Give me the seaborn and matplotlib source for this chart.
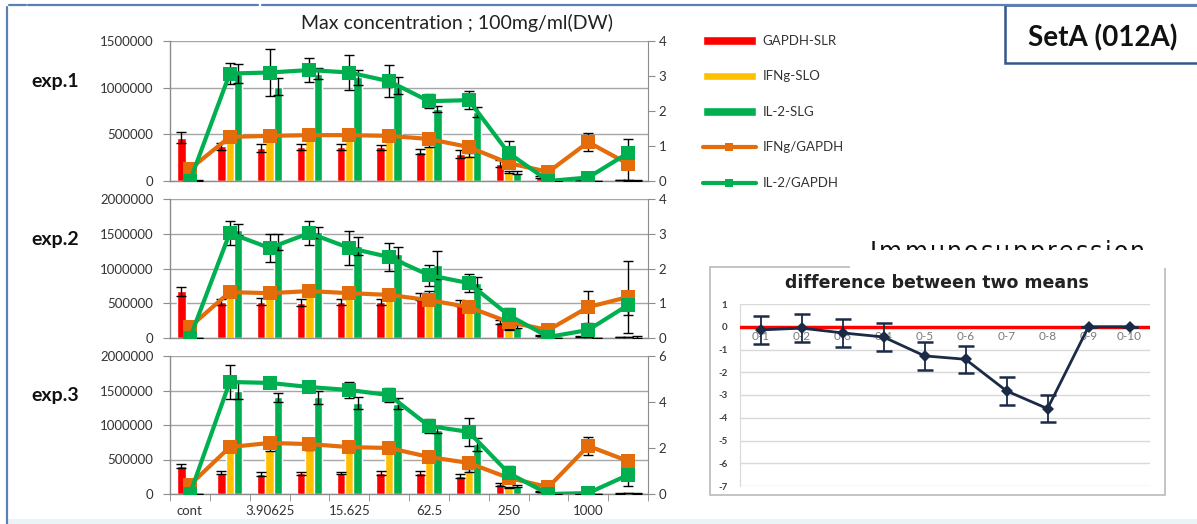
import numpy as np
import pandas as pd
import matplotlib
matplotlib.use("Agg")
import matplotlib.pyplot as plt
from matplotlib.patches import Rectangle, Patch
from matplotlib.lines import Line2D
from matplotlib.ticker import FuncFormatter
import seaborn as sns

# ---------------------------------------------------------------- data
categories = ['cont', '1.953125', '3.90625', '7.8125', '15.625', '31.25',
              '62.5', '125', '250', '500', '1000', '2000']
tick_labels = ['cont', '', '3.90625', '', '15.625', '', '62.5', '', '250', '', '1000', '']

bar_series = ['GAPDH-SLR', 'IFNg-SLO', 'IL-2-SLG']
ratio_series = ['IFNg/GAPDH', 'IL-2/GAPDH']

# exp.1
exp1_gapdh = [465000, 370000, 355000, 365000, 365000, 360000, 315000, 290000, 185000, 40000, 10000, 10000]
exp1_gapdh_err = [55000, 35000, 40000, 30000, 30000, 25000, 30000, 40000, 35000, 10000, 3000, 3000]
exp1_ifng = [155000, 465000, 455000, 475000, 480000, 465000, 380000, 280000, 95000, 10000, 11000, 5000]
exp1_ifng_err = [10000, 20000, 20000, 20000, 20000, 20000, 20000, 20000, 10000, 2000, 2000, 2000]
exp1_il2 = [5000, 1150000, 1010000, 1150000, 1110000, 1020000, 770000, 740000, 90000, 2000, 2000, 5000]
exp1_il2_err = [2000, 100000, 90000, 60000, 80000, 90000, 30000, 50000, 15000, 1000, 1000, 2000]
exp1_r_ifng = [0.34, 1.26, 1.29, 1.31, 1.31, 1.29, 1.20, 0.97, 0.51, 0.26, 1.11, 0.49]
exp1_r_ifng_err = [0.05, 0.10, 0.08, 0.10, 0.08, 0.10, 0.10, 0.10, 0.10, 0.05, 0.25, 0.45]
exp1_r_il2 = [0.0, 3.07, 3.10, 3.17, 3.10, 2.85, 2.28, 2.31, 0.80, 0.0, 0.10, 0.80]
exp1_r_il2_err = [0.0, 0.30, 0.67, 0.35, 0.50, 0.45, 0.20, 0.25, 0.35, 0.0, 0.0, 0.40]

# exp.2
exp2_gapdh = [670000, 520000, 520000, 505000, 520000, 520000, 600000, 500000, 230000, 40000, 20000, 15000]
exp2_gapdh_err = [60000, 40000, 50000, 50000, 40000, 40000, 50000, 40000, 30000, 10000, 5000, 5000]
exp2_ifng = [215000, 686000, 670000, 680000, 670000, 645000, 654000, 445000, 120000, 9000, 18000, 18000]
exp2_ifng_err = [10000, 20000, 20000, 20000, 20000, 20000, 20000, 20000, 10000, 2000, 2000, 2000]
exp2_il2 = [5000, 1560000, 1380000, 1520000, 1320000, 1210000, 1050000, 790000, 160000, 1000, 5000, 14000]
exp2_il2_err = [2000, 80000, 120000, 80000, 130000, 100000, 200000, 90000, 20000, 1000, 2000, 10000]
exp2_r_ifng = [0.32, 1.32, 1.29, 1.35, 1.29, 1.24, 1.09, 0.89, 0.46, 0.23, 0.89, 1.18]
exp2_r_ifng_err = [0.05, 0.10, 0.10, 0.10, 0.10, 0.10, 0.10, 0.10, 0.10, 0.05, 0.46, 1.05]
exp2_r_il2 = [0.0, 3.02, 2.59, 3.02, 2.59, 2.33, 1.81, 1.58, 0.66, 0.03, 0.23, 0.95]
exp2_r_il2_err = [0.0, 0.35, 0.40, 0.35, 0.50, 0.40, 0.30, 0.25, 0.20, 0.0, 0.10, 0.30]

# exp.3
exp3_gapdh = [410000, 310000, 290000, 300000, 305000, 305000, 310000, 255000, 140000, 30000, 5000, 8000]
exp3_gapdh_err = [30000, 25000, 35000, 20000, 20000, 25000, 30000, 30000, 25000, 8000, 2000, 2000]
exp3_ifng = [160000, 632000, 644000, 651000, 622000, 610000, 500000, 344000, 98000, 9000, 10000, 11000]
exp3_ifng_err = [10000, 20000, 20000, 20000, 20000, 20000, 20000, 20000, 10000, 2000, 2000, 2000]
exp3_il2 = [5000, 1500000, 1400000, 1400000, 1320000, 1310000, 930000, 720000, 120000, 1000, 1000, 7000]
exp3_il2_err = [2000, 120000, 60000, 100000, 90000, 80000, 50000, 90000, 15000, 500, 500, 3000]
exp3_r_ifng = [0.39, 2.04, 2.22, 2.17, 2.04, 2.00, 1.61, 1.35, 0.70, 0.30, 2.09, 1.43]
exp3_r_ifng_err = [0.05, 0.15, 0.10, 0.10, 0.10, 0.10, 0.10, 0.10, 0.10, 0.05, 0.40, 0.10]
exp3_r_il2 = [0.0, 4.87, 4.83, 4.65, 4.52, 4.30, 2.96, 2.70, 0.91, 0.0, 0.04, 0.83]
exp3_r_il2_err = [0.0, 0.75, 0.15, 0.20, 0.35, 0.30, 0.30, 0.60, 0.30, 0.0, 0.0, 0.50]

# difference between two means
diff_labels = ['0-1', '0-2', '0-3', '0-4', '0-5', '0-6', '0-7', '0-8', '0-9', '0-10']
diff_means = [-0.14, -0.06, -0.27, -0.45, -1.28, -1.43, -2.82, -3.60, 0.0, 0.0]
diff_err = [0.60, 0.62, 0.62, 0.60, 0.60, 0.60, 0.60, 0.60, 0.0, 0.0]

# ---------------------------------------------------------------- style
sns.set_style("white")
plt.rcParams['font.family'] = ['Lato', 'DejaVu Sans']
plt.rcParams['axes.unicode_minus'] = False

RED, YEL, GRN, ORG = '#FF0000', '#FFC000', '#00B050', '#E46C0A'
GRAY = '#8C8C8C'
FRAME = '#5B80B5'

W, H = 1197, 524
fig = plt.figure(figsize=(W / 100, H / 100), dpi=100)
fig.patch.set_facecolor('white')


def px_box(l, t, r, b):
    return [l / W, 1 - b / H, (r - l) / W, (b - t) / H]


def draw_panel(box, gapdh, gapdh_err, ifng, ifng_err, il2, il2_err,
               r_ifng, r_ifng_err, r_il2, r_il2_err, ymax, rmax, rstep, bottom):
    ax = fig.add_axes(px_box(*box))
    df = pd.DataFrame({
        'conc': categories * 3,
        'series': np.repeat(bar_series, len(categories)),
        'value': list(gapdh) + list(ifng) + list(il2),
    })
    sns.barplot(data=df, x='conc', y='value', hue='series', hue_order=bar_series,
                palette=[RED, YEL, GRN], width=0.64, saturation=1,
                errorbar=None, legend=False, ax=ax, zorder=2)
    for cont, errs in zip(ax.containers, [gapdh_err, ifng_err, il2_err]):
        xs = [p.get_x() + p.get_width() / 2 for p in cont]
        ys = [p.get_height() for p in cont]
        ax.errorbar(xs, ys, yerr=errs, fmt='none', ecolor='black',
                    elinewidth=1, capsize=3.5, capthick=1, zorder=3)

    ax.set_ylim(0, ymax)
    ax.set_yticks(np.arange(0, ymax + 1, 500000))
    ax.yaxis.set_major_formatter(FuncFormatter(lambda v, p: f'{int(v)}'))
    ax.yaxis.grid(True, color='#A6A6A6', lw=1)
    ax.set_axisbelow(True)
    ax.set_xlabel('')
    ax.set_ylabel('')
    for s in ['top', 'right']:
        ax.spines[s].set_visible(False)
    for s in ['left', 'bottom']:
        ax.spines[s].set_color(GRAY)
        ax.spines[s].set_linewidth(1)
    ax.tick_params(axis='y', length=5, color=GRAY, labelsize=9.5, pad=7,
                   labelcolor='#333333')

    ax2 = ax.twinx()
    pos = np.arange(len(categories))
    # error bars sit underneath the square markers
    ax2.errorbar(pos, r_ifng, yerr=r_ifng_err, fmt='none', ecolor='black',
                 elinewidth=1, capsize=3.5, capthick=1, zorder=2)
    ax2.errorbar(pos, r_il2, yerr=r_il2_err, fmt='none', ecolor='black',
                 elinewidth=1, capsize=3.5, capthick=1, zorder=2)
    sns.lineplot(x=pos, y=r_ifng, ax=ax2, color=ORG, lw=3, marker='s',
                 markersize=9.5, markeredgewidth=0, zorder=4)
    sns.lineplot(x=pos, y=r_il2, ax=ax2, color=GRN, lw=3, marker='s',
                 markersize=9.5, markeredgewidth=0, zorder=5)
    ax2.set_ylim(0, rmax)
    ax2.set_yticks(np.arange(0, rmax + 0.1, rstep))
    ax2.set_ylabel('')
    for s in ['top', 'left', 'bottom']:
        ax2.spines[s].set_visible(False)
    ax2.spines['right'].set_color(GRAY)
    ax2.tick_params(axis='y', length=5, color=GRAY, labelsize=9.5, pad=2.5,
                    labelcolor='#333333')

    ax.set_xlim(-0.5, len(categories) - 0.5)
    ax.set_xticks(pos)
    if bottom:
        ax.set_xticklabels(tick_labels)
        ax.set_xticks(np.arange(-0.5, len(categories), 1), minor=True)
        ax.tick_params(axis='x', which='major', length=0, labelsize=9.5, pad=8,
                       labelcolor='#333333')
        ax.tick_params(axis='x', which='minor', length=5, color=GRAY,
                       direction='out', bottom=True)
    else:
        ax.set_xticklabels([])
        ax.tick_params(axis='x', length=0)
    return ax


draw_panel((170, 41, 648, 181), exp1_gapdh, exp1_gapdh_err, exp1_ifng, exp1_ifng_err,
           exp1_il2, exp1_il2_err, exp1_r_ifng, exp1_r_ifng_err, exp1_r_il2, exp1_r_il2_err,
           1500000, 4, 1, False)
draw_panel((170, 199, 648, 338), exp2_gapdh, exp2_gapdh_err, exp2_ifng, exp2_ifng_err,
           exp2_il2, exp2_il2_err, exp2_r_ifng, exp2_r_ifng_err, exp2_r_il2, exp2_r_il2_err,
           2000000, 4, 1, False)
draw_panel((170, 356, 648, 494), exp3_gapdh, exp3_gapdh_err, exp3_ifng, exp3_ifng_err,
           exp3_il2, exp3_il2_err, exp3_r_ifng, exp3_r_ifng_err, exp3_r_il2, exp3_r_il2_err,
           2000000, 6, 2, True)

# titles and row labels
fig.text(457 / W, 1 - 23 / H, 'Max concentration ; 100mg/ml(DW)', ha='center',
         va='center', fontsize=14, color='#222222')
for lbl, yc in [('exp.1', 82), ('exp.2', 239), ('exp.3', 396)]:
    fig.text(55 / W, 1 - yc / H, lbl, ha='center', va='center', fontsize=14,
             weight='bold', color='#111111')

# legend
handles = [Patch(facecolor=RED), Patch(facecolor=YEL), Patch(facecolor=GRN),
           Line2D([0], [0], color=ORG, lw=3, marker='s', ms=6, mew=0),
           Line2D([0], [0], color=GRN, lw=3, marker='s', ms=6, mew=0)]
fig.legend(handles, bar_series + ratio_series, loc='upper left',
           bbox_to_anchor=(703 / W, 1 - 35 / H), frameon=False, fontsize=9.5,
           handlelength=4, handleheight=0.6, labelspacing=1.78, handletextpad=0.5,
           borderaxespad=0, borderpad=0, labelcolor='#333333')

# set label box
fig.add_artist(Rectangle((1005 / W, 1 - 63 / H), 200 / W, 58 / H, transform=fig.transFigure,
                         facecolor='white', edgecolor='#36558A', lw=1.8, zorder=2))
fig.text(1103 / W, 1 - 38 / H, 'SetA (012A)', ha='center', va='center', fontsize=20,
         weight='bold', color='#111111', zorder=3)

# page frame
fig.add_artist(Line2D([9 / W, 26 / W], [1 - 5 / H] * 2, transform=fig.transFigure, color=FRAME, lw=1.6))
fig.add_artist(Line2D([28 / W, 258 / W], [1 - 5 / H] * 2, transform=fig.transFigure, color=FRAME, lw=1.6))
fig.add_artist(Line2D([262 / W, 1], [1 - 5 / H] * 2, transform=fig.transFigure, color=FRAME, lw=1.6))
fig.add_artist(Line2D([7 / W, 7 / W], [1 - 7 / H, 0], transform=fig.transFigure, color=FRAME, lw=1.6))
fig.add_artist(Rectangle((8 / W, 0), 1, 5 / H, transform=fig.transFigure,
                         facecolor='#EAF4F7', edgecolor='none', zorder=0))

# heading partly hidden behind the inset chart
renderer = fig.canvas.get_renderer()
word = 'Immunosuppression'
glyphs = [fig.text(0, 1 - 259 / H, ch, fontsize=17, color='#111111', va='baseline',
                   family='DejaVu Sans') for ch in word]
widths = [g.get_window_extent(renderer).width for g in glyphs]
gap = (275 - sum(widths)) / (len(word) - 1)
x = 870
for g, w in zip(glyphs, widths):
    g.set_x(x / W)
    x += w + gap
fig.add_artist(Rectangle((850 / W, 1 - 268 / H), 320 / W, 18 / H, transform=fig.transFigure,
                         facecolor='white', edgecolor='none', zorder=5))

# inset: difference between two means
fig.add_artist(Rectangle((710 / W, 1 - 495 / H), 455 / W, 228 / H, transform=fig.transFigure,
                         facecolor='white', edgecolor='#BFBFBF', lw=1.3, zorder=-1))
ax3 = fig.add_axes(px_box(740, 304, 1150, 486))
ax3.set_facecolor('none')
xpos = np.arange(len(diff_labels))
ax3.axhline(0, color='#FF0000', lw=2.5, zorder=3)
sns.lineplot(x=xpos, y=diff_means, ax=ax3, color='#1B2A47', lw=2, marker='D',
             markersize=6.5, markeredgewidth=0, zorder=4)
ax3.errorbar(xpos, diff_means, yerr=diff_err, fmt='none', ecolor='#1B2A47',
             elinewidth=1.3, capsize=6, capthick=1.8, zorder=4)
ax3.set_xlim(-0.5, len(diff_labels) - 0.5)
ax3.set_ylim(-7, 1)
ax3.set_yticks(np.arange(-7, 2, 1))
ax3.set_yticklabels([str(v) for v in range(-7, 2)])
ax3.yaxis.grid(True, color='#D9D9D9', lw=1)
ax3.set_axisbelow(True)
ax3.set_xticks(xpos)
ax3.set_xticklabels(diff_labels)
ax3.spines['bottom'].set_position(('data', 0))
ax3.spines['bottom'].set_visible(False)
ax3.spines['top'].set_visible(False)
ax3.spines['right'].set_visible(False)
ax3.spines['left'].set_color('#D9D9D9')
ax3.tick_params(axis='x', length=0, labelsize=8.5, labelcolor='#7A7A7A', pad=3)
ax3.tick_params(axis='y', length=3, color='#D9D9D9', labelsize=7, labelcolor='#404040', pad=6)
for t in ax3.get_yticklabels():
    t.set_fontweight('bold')
ax3.set_xlabel('')
ax3.set_ylabel('')
fig.text(937 / W, 1 - 283 / H, 'difference between two means', ha='center', va='center',
         fontsize=12.5, weight='bold', color='#222222', family='DejaVu Sans')

fig.savefig('out.png', dpi=100)
